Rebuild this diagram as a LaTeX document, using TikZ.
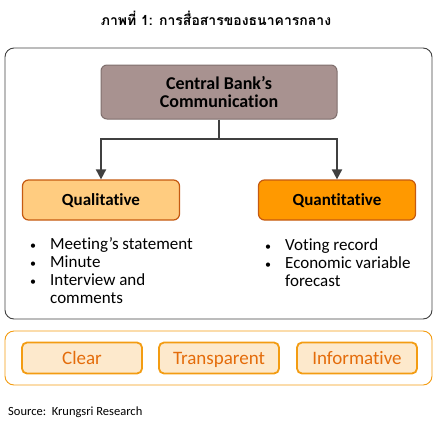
\documentclass[tikz,border=0pt]{standalone}
\usepackage{fontspec}
\setmainfont{Carlito}[Ligatures={NoCommon}]
\newfontfamily\thaifont[Script=Thai]{Loma}
\usetikzlibrary{arrows.meta}
\definecolor{frame}{HTML}{404040}
\definecolor{cbfill}{HTML}{A89290}
\definecolor{cbdraw}{HTML}{7F6F6D}
\definecolor{qlfill}{HTML}{FFCC80}
\definecolor{qnfill}{HTML}{FF9900}
\definecolor{qdraw}{HTML}{C55A11}
\definecolor{pfill}{HTML}{FDE9CC}
\definecolor{pdraw}{HTML}{F39C12}
\definecolor{ptext}{HTML}{E46C0A}
\newcommand{\bul}{\makebox[20pt][l]{\fontsize{12}{12}\selectfont•}}
\tikzset{
  cbbox/.style={draw=cbdraw, line width=1pt, fill=cbfill, rounded corners=6pt, minimum width=236pt, minimum height=54pt, align=center, font=\fontsize{18}{18}\selectfont\bfseries, inner sep=0pt},
  catbox/.style={draw=qdraw, line width=1.2pt, rounded corners=6pt, minimum width=157pt, minimum height=40pt, font=\fontsize{17}{18}\selectfont\bfseries, inner sep=0pt, text height=12pt, text depth=1pt},
  pillbox/.style={draw=pdraw, line width=1.8pt, fill=pfill, rounded corners=5pt, minimum width=120pt, minimum height=31pt, text=ptext, font=\fontsize{19}{20}\selectfont, inner sep=0pt, text height=13pt, text depth=1pt},
  conn/.style={draw=frame, line width=1.8pt, -{Triangle[length=10pt,width=10pt]}},
  bl/.style={anchor=base west, font=\fontsize{17}{18}\selectfont, inner sep=0pt}
}
\begin{document}
\begin{tikzpicture}[x=1pt,y=-1pt]
\useasboundingbox (0,0) rectangle (433,426);
\node[font=\thaifont\bfseries\fontsize{14}{16}\selectfont] (title) at (216,18) {ภาพที่ 1: การสื่อสารของธนาคารกลาง};
\draw[frame, line width=0.9pt, rounded corners=9pt] (5,48) rectangle (432,319);
\node[cbbox] (cb) at (219,92) {Central Bank’s\\Communication};
\node[catbox, fill=qlfill] (ql) at (101,200) {Qualitative};
\node[catbox, fill=qnfill] (qn) at (337,200) {Quantitative};
\coordinate (mid) at (219,139);
\draw[conn] (cb.south) -- (mid) -| (ql.north);
\draw[conn] (mid) -| (qn.north);
\node[bl] (l1) at (30,249) {\bul Meeting’s statement};
\node[bl] (l2) at (30,267) {\bul Minute};
\node[bl] (l3) at (30,285) {\bul Interview and};
\node[bl] (l4) at (50,303) {comments};
\node[bl] (r1) at (265,250) {\bul Voting record};
\node[bl] (r2) at (265,268) {\bul Economic variable};
\node[bl] (r3) at (285,286) {forecast};
\draw[pdraw, line width=0.9pt, rounded corners=9pt] (5,331) rectangle (432,385);
\node[pillbox] (clear) at (82,358) {Clear};
\node[pillbox] (trans) at (219,358) {Transparent};
\node[pillbox] (info) at (357,358) {Informative};
\node[anchor=base west, font=\fontsize{12.5}{14}\selectfont, inner sep=0pt] (src) at (8,415) {Source:\ \ Krungsri Research};
\end{tikzpicture}
\end{document}
